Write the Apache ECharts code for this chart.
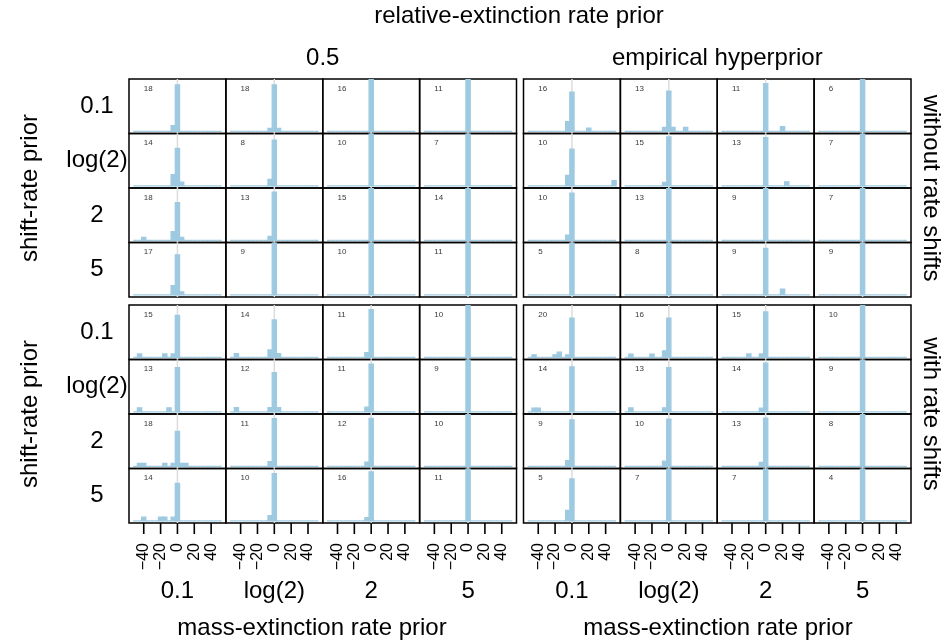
<!DOCTYPE html>
<html><head><meta charset="utf-8">
<script src="https://cdn.jsdelivr.net/npm/echarts@6/dist/echarts.min.js"></script>
<style>html,body{margin:0;padding:0;background:#fff}#c{width:945px;height:642px}</style>
</head><body><div id="c"></div>
<script>
// ---- labels ----
const massPriors = ['0.1', 'log(2)', '2', '5'];
const shiftPriors = ['0.1', 'log(2)', '2', '5'];
const relPriors = ['0.5', 'empirical hyperprior'];
const shiftGroups = ['without rate shifts', 'with rate shifts'];
const binCenters = [-50, -45, -40, -35, -30, -25, -20, -15, -10, -5, 0, 5, 10, 15, 20, 25, 30, 35, 40, 45, 50];
const xTicks = [-40, -20, 0, 20, 40];

// ---- data: panels ordered row = shift-rate prior, col = mass-extinction rate prior ----
// n = number shown in the panel; bins = [bin centre, count] for non-empty bins
const nWithout05 = [18, 18, 16, 11, 14, 8, 10, 7, 18, 13, 15, 14, 17, 9, 10, 11];
const binsWithout05 = [
  [[0, 16], [-5, 2]], [[0, 16], [-5, 1], [5, 1]], [[0, 16]], [[0, 11]],
  [[0, 10], [-5, 3], [5, 1]], [[0, 7], [-5, 1]], [[0, 10]], [[0, 7]],
  [[0, 13], [-5, 3], [5, 1], [-40, 1]], [[0, 12], [-5, 1]], [[0, 15]], [[0, 14]],
  [[0, 13], [-5, 3], [5, 1]], [[0, 9]], [[0, 10]], [[0, 11]]
];
const nWithoutEmp = [16, 13, 11, 6, 10, 15, 13, 7, 10, 13, 9, 7, 5, 8, 9, 9];
const binsWithoutEmp = [
  [[0, 12], [-5, 3], [20, 1]], [[0, 10], [-5, 1], [5, 1], [20, 1]], [[0, 10], [20, 1]], [[0, 6]],
  [[0, 7], [-5, 2], [50, 1]], [[0, 14], [-5, 1]], [[0, 12], [25, 1]], [[0, 7]],
  [[0, 9], [-5, 1]], [[0, 13]], [[0, 9]], [[0, 7]],
  [[0, 5]], [[0, 8]], [[0, 8], [20, 1]], [[0, 9]]
];
const nWith05 = [15, 14, 11, 10, 13, 12, 11, 9, 18, 11, 12, 10, 14, 10, 16, 11];
const binsWith05 = [
  [[0, 12], [-5, 1], [-15, 1], [-45, 1]], [[0, 10], [-5, 2], [5, 1], [-45, 1]], [[0, 10], [-5, 1]], [[0, 10]],
  [[0, 11], [-10, 1], [-45, 1]], [[0, 9], [-5, 1], [5, 1], [-45, 1]], [[0, 10], [-5, 1]], [[0, 9]],
  [[0, 12], [-5, 1], [5, 1], [10, 1], [-15, 1], [-40, 1], [-45, 1]], [[0, 10], [-5, 1]], [[0, 11], [-5, 1]], [[0, 10]],
  [[0, 10], [-5, 1], [-15, 1], [-20, 1], [-40, 1]], [[0, 9], [-5, 1]], [[0, 15], [-5, 1]], [[0, 11]]
];
const nWithEmp = [20, 16, 15, 10, 14, 13, 14, 9, 9, 10, 13, 8, 5, 7, 7, 4];
const binsWithEmp = [
  [[0, 15], [-5, 1], [-15, 2], [-20, 1], [-45, 1]], [[0, 12], [-5, 2], [-20, 1], [-45, 1]], [[0, 13], [-5, 1], [-20, 1]], [[0, 10]],
  [[0, 12], [-40, 1], [-45, 1]], [[0, 11], [-5, 1], [-45, 1]], [[0, 13], [-5, 1]], [[0, 9]],
  [[0, 8], [-5, 1]], [[0, 9], [-5, 1]], [[0, 12], [-5, 1]], [[0, 8]],
  [[0, 4], [-5, 1]], [[0, 7]], [[0, 7]], [[0, 4]]
];

// ---- layout ----
const FONT = '"Liberation Sans", Arial, Helvetica, sans-serif';
const blockLeft = [129, 523.5];
const blockTop = [79, 305];
const blockW = 387.5, blockH = 218;
const pW = blockW / 4, pH = blockH / 4;
const binW = 5;
const XMIN = -57.5, XMAX = 57.5, YMIN = -0.04, YMAX = 1;
const TICK_LEN = 11;

const blocks = [
  { g: 0, r: 0, n: nWithout05, bins: binsWithout05 },
  { g: 0, r: 1, n: nWithoutEmp, bins: binsWithoutEmp },
  { g: 1, r: 0, n: nWith05, bins: binsWith05 },
  { g: 1, r: 1, n: nWithEmp, bins: binsWithEmp }
];

const grids = [], xAxes = [], yAxes = [], series = [];
const fmtTick = v => (v < 0 ? '\u2212' + (-v) : String(v));

function renderBar(params, api) {
  const c = api.value(0), v = api.value(1);
  const p0 = api.coord([c - binW / 2, 0]);
  const p1 = api.coord([c + binW / 2, v]);
  return {
    type: 'rect',
    shape: { x: p0[0], y: p1[1], width: p1[0] - p0[0], height: p0[1] - p1[1] },
    style: { fill: '#9ecae1', stroke: '#9ecae1', lineWidth: 1.3 }
  };
}

blocks.forEach(b => {
  for (let i = 0; i < 4; i++) {
    for (let j = 0; j < 4; j++) {
      const k = i * 4 + j;
      const idx = grids.length;
      const bottomRow = (b.g === 1 && i === 3);
      grids.push({
        left: blockLeft[b.r] + j * pW, top: blockTop[b.g] + i * pH,
        width: pW, height: pH,
        show: true, borderColor: '#000', borderWidth: 1.5, backgroundColor: 'transparent'
      });
      xAxes.push({
        gridIndex: idx, type: 'value', min: XMIN, max: XMAX, position: 'bottom',
        axisLine: { show: false, onZero: false },
        splitLine: { show: false },
        axisTick: { show: false },
        axisLabel: { show: bottomRow, customValues: xTicks, rotate: 90, margin: 20, fontSize: 16, color: '#000', fontFamily: FONT, formatter: fmtTick }
      });
      yAxes.push({ gridIndex: idx, type: 'value', min: YMIN, max: YMAX, show: false });
      const N = b.n[k];
      const counts = {};
      b.bins[k].forEach(([c, n]) => { counts[c] = n; });
      const data = binCenters.map(c => [c, (counts[c] || 0) / N]);
      series.push({
        type: 'line', xAxisIndex: idx, yAxisIndex: idx, silent: true, symbol: 'none', z: 1,
        lineStyle: { color: '#dcdcdc', width: 1.5 }, data: [[0, YMIN], [0, YMAX]]
      });
      series.push({
        type: 'custom', xAxisIndex: idx, yAxisIndex: idx, silent: true, z: 2,
        renderItem: renderBar, data: data, clip: true
      });
      series.push({
        type: 'scatter', xAxisIndex: idx, yAxisIndex: idx, silent: true, z: 3,
        symbolSize: 0, data: [[-40, 0.82]],
        label: { show: true, position: [0, 0], align: 'left', verticalAlign: 'middle',
          formatter: String(N), fontSize: 8, color: '#000', fontFamily: FONT }
      });
      if (bottomRow) {
        // tick marks below the panel, one short segment per tick value
        xTicks.forEach(t => {
          series.push({
            type: 'line', xAxisIndex: idx, yAxisIndex: idx, silent: true, symbol: 'none', z: 5,
            clip: false, lineStyle: { color: '#000', width: 1.6 },
            data: [[t, YMIN], [t, YMIN - (YMAX - YMIN) * TICK_LEN / pH]]
          });
        });
      }
    }
  }
});

// ---- text ----
const BIG = 24;
const graphics = [];
function txt(text, x, y, rot, size) {
  graphics.push({
    type: 'text', x: x, y: y, rotation: rot || 0, silent: true,
    style: { text: text, textAlign: 'center', textVerticalAlign: 'middle', fill: '#000',
      font: (size || BIG) + 'px ' + FONT }
  });
}
const xTitleCenters = [312, 718];
txt('relative-extinction rate prior', 519, 16);
relPriors.forEach((t, r) => txt(t, blockLeft[r] + blockW / 2, 58));
shiftGroups.forEach((t, g) => {
  txt('shift-rate prior', 30, blockTop[g] + blockH / 2, Math.PI / 2);
  txt(t, 931, blockTop[g] + blockH / 2, -Math.PI / 2);
  shiftPriors.forEach((s, i) => txt(s, 97, blockTop[g] + (i + 0.5) * pH));
});
relPriors.forEach((t, r) => {
  massPriors.forEach((m, j) => txt(m, blockLeft[r] + (j + 0.5) * pW, 591));
  txt('mass-extinction rate prior', xTitleCenters[r], 628);
});

const chart = echarts.init(document.getElementById('c'), null, { renderer: 'canvas' });
chart.setOption({
  animation: false,
  backgroundColor: '#fff',
  grid: grids, xAxis: xAxes, yAxis: yAxes, series: series,
  graphic: graphics
});
</script></body></html>
